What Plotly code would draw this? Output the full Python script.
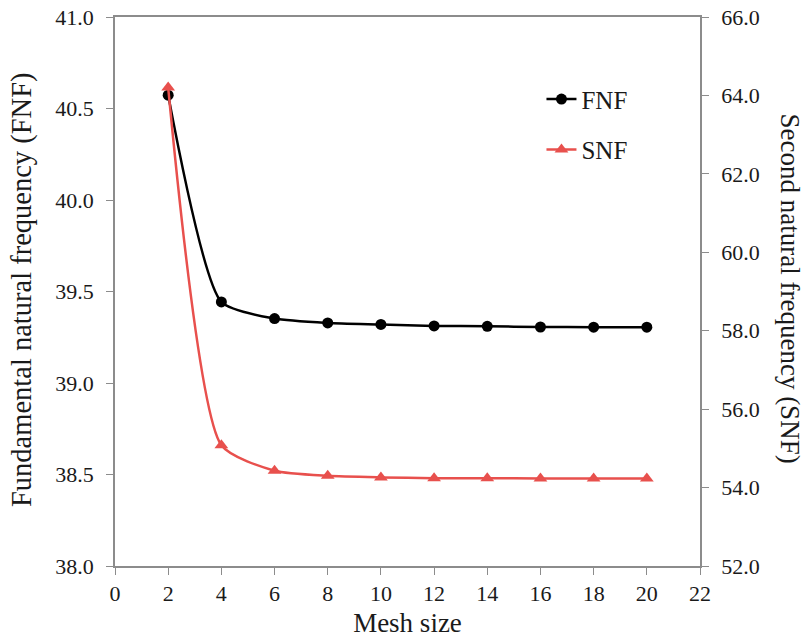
import plotly.graph_objects as go

mesh_size = [2, 4, 6, 8, 10, 12, 14, 16, 18, 20]
fnf = [40.573, 39.443, 39.352, 39.328, 39.320, 39.312, 39.310, 39.306, 39.305, 39.305]
snf = [64.20, 55.08, 54.43, 54.30, 54.26, 54.24, 54.24, 54.23, 54.23, 54.23]
x_ticks = list(range(0, 23, 2))

RED = "#e8504d"
AX = "#8c8c8c"
FONT = "Liberation Serif"
TXT = "#1a1a1a"

fig = go.Figure()
fig.add_trace(go.Scatter(
    x=mesh_size, y=fnf, name="FNF", mode="lines+markers",
    line=dict(color="black", width=2.5, shape="spline", smoothing=0.6),
    marker=dict(symbol="circle", size=11, color="black"),
    legendgroup="a", yaxis="y"))
fig.add_trace(go.Scatter(
    x=mesh_size, y=snf, name="SNF", mode="lines+markers",
    line=dict(color=RED, width=2.5, shape="spline", smoothing=0.6),
    marker=dict(symbol="triangle-up", size=12, color=RED),
    legendgroup="b", yaxis="y2"))

tf = dict(family=FONT, size=22, color=TXT)
common = dict(ticks="outside", ticklen=7, tickcolor=AX, tickwidth=1.3, showline=True,
              linecolor=AX, linewidth=1.5, showgrid=False, zeroline=False,
              automargin=False, ticklabeloverflow="allow", tickfont=tf)

fig.update_layout(
    width=810, height=642,
    margin=dict(l=115, r=110, t=17, b=76),
    paper_bgcolor="white", plot_bgcolor="white",
    font=dict(family=FONT, color=TXT, size=22),
    showlegend=True,
    legend=dict(x=0.729, y=0.892, xanchor="left", yanchor="top",
                font=dict(family=FONT, size=25, color=TXT),
                tracegroupgap=15, itemwidth=30, bgcolor="rgba(0,0,0,0)"),
    xaxis=dict(range=[0, 22], tickvals=x_ticks, mirror=True, ticklabelstandoff=0,
               title=dict(text="Mesh size", font=dict(family=FONT, size=27, color=TXT),
                          standoff=8), **common),
    yaxis=dict(range=[38, 41], dtick=0.5, tickformat=".1f", ticklabelstandoff=8, **common),
    yaxis2=dict(range=[52, 66], dtick=2, tickformat=".1f", ticklabelstandoff=8,
                overlaying="y", side="right", **common),
    annotations=[
        dict(text="Fundamental natural frequency (FNF)", xref="paper", yref="paper",
             x=0, xshift=-93, y=0.5, yshift=1.5, textangle=-90, showarrow=False,
             font=dict(family=FONT, size=28.5, color=TXT), xanchor="center", yanchor="middle"),
        dict(text="Second natural frequency (SNF)", xref="paper", yref="paper",
             x=1, xshift=90, y=0.5, yshift=3, textangle=90, showarrow=False,
             font=dict(family=FONT, size=27, color=TXT), xanchor="center", yanchor="middle"),
    ],
)

fig.write_html("out.html", config={"displayModeBar": False},
               post_script="document.body.style.margin='0';")
